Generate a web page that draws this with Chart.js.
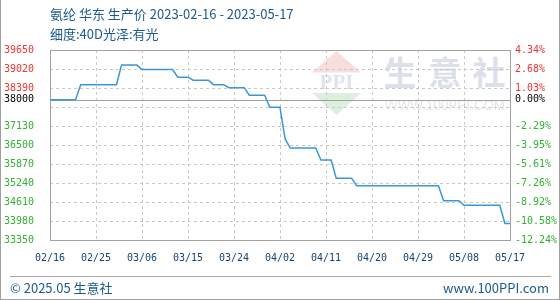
<!DOCTYPE html>
<html>
<head>
<meta charset="utf-8">
<script src="https://cdn.jsdelivr.net/npm/chart.js@4"></script>
<style>
html,body{margin:0;padding:0;background:#fff;}
#wrap{position:relative;width:560px;height:300px;overflow:hidden;}
#c{position:absolute;left:0;top:0;}
.frame{position:absolute;left:0;top:0;width:560px;height:300px;box-sizing:border-box;border-left:1px solid #a0a0a0;border-right:1px solid #a0a0a0;border-bottom:1px solid #a0a0a0;pointer-events:none;}
.title{position:absolute;left:50px;font:13px "Noto Sans CJK SC",sans-serif;color:#1c5a8c;line-height:20px;white-space:nowrap;}
.fline{position:absolute;left:10px;top:276px;width:541px;height:1px;background:#a8a8a8;}
.foot{position:absolute;top:279px;font:13px "Noto Sans CJK SC",sans-serif;color:#1c5a8c;line-height:18px;white-space:nowrap;}
</style>
</head>
<body>
<div id="wrap">
  <canvas id="c" width="560" height="300"></canvas>
  <div class="title" style="top:4px">氨纶 华东 生产价 2023-02-16 - 2023-05-17</div>
  <div class="title" style="top:24px">细度:40D光泽:有光</div>
  <div class="fline"></div>
  <div class="foot" style="left:10px">© 2025.05 生意社</div>
  <div class="foot" style="right:11px">www.100PPI.com</div>
  <div class="frame"></div>
</div>
<script>
// ---- data ----
const startDate = '2023-02-16';
const dayCount = 91;
const prices = [
  38000,38000,38000,38000,38000,38000,
  38500,38500,38500,38500,38500,38500,38500,38500,
  39150,39150,39150,39150,
  39000,39000,39000,39000,39000,39000,39000,
  38750,38750,38750,
  38650,38650,38650,38650,
  38500,38500,38500,
  38400,38400,38400,38400,
  38150,38150,38150,38150,
  37750,37750,37750,
  36700,
  36400,36400,36400,36400,36400,36400,
  36000,36000,36000,
  35400,35400,35400,35400,
  35150,35150,35150,35150,35150,35150,35150,35150,35150,35150,35150,35150,35150,35150,35150,35150,35150,
  34650,34650,34650,34650,
  34500,34500,34500,34500,34500,34500,34500,34500,
  33900,33900
];
const yTicks = [33350,33980,34610,35240,35870,36500,37130,37760,38000,38390,39020,39650];
const hiddenTickLabels = [37760];
const baseValue = 38000;
const xTickStep = 9;

// date labels (MM/DD) for each day
const dayLabels = [];
(function(){
  const d0 = new Date(startDate + 'T00:00:00Z');
  for (let i = 0; i < dayCount; i++) {
    const d = new Date(d0.getTime() + i * 86400000);
    const mm = String(d.getUTCMonth() + 1).padStart(2, '0');
    const dd = String(d.getUTCDate()).padStart(2, '0');
    dayLabels.push(mm + '/' + dd);
  }
})();

const points = prices.map((v, i) => ({x: i, y: v}));

const RED = '#ee3333', GREEN = '#33b033', BLACK = '#000000';
const tickColor = (v) => v > baseValue ? RED : (v < baseValue ? GREEN : BLACK);
const monoFont = {family: '"DejaVu Sans Mono", monospace', size: 10};

const watermark = {
  id: 'watermark',
  beforeDraw(chart) {
    const ctx = chart.ctx, a = chart.chartArea;
    ctx.save();
    // red triangle
    ctx.fillStyle = '#f8dede';
    ctx.beginPath(); ctx.moveTo(312, 72.5); ctx.lineTo(361, 72.5); ctx.lineTo(336.5, 51); ctx.closePath(); ctx.fill();
    // green triangle
    ctx.fillStyle = '#ddf0e0';
    ctx.beginPath(); ctx.moveTo(312, 93); ctx.lineTo(361, 93); ctx.lineTo(336.5, 115); ctx.closePath(); ctx.fill();
    // PPI
    ctx.fillStyle = '#dfe4ee';
    ctx.font = 'bold 21px "Liberation Serif", serif';
    ctx.textAlign = 'center'; ctx.textBaseline = 'middle';
    ctx.fillText('PPI', 336.5, 84, 46);
    // 生意社
    ctx.fillStyle = '#dbe0ea';
    ctx.font = 'bold 33px "Noto Sans CJK SC", sans-serif';
    ctx.fillText('生', 400, 72);
    ctx.fillText('意', 445, 72);
    ctx.fillText('社', 489, 72);
    // url
    ctx.fillStyle = '#e6e6e6';
    ctx.font = '15px "Liberation Sans", sans-serif';
    ctx.fillText('WWW.100PPI.COM', 445, 106, 120);

    // dashed grid lines at the tick positions
    ctx.strokeStyle = '#c8c8c8';
    ctx.lineWidth = 1;
    ctx.setLineDash([3, 3]);
    const ys = chart.scales.y, xs = chart.scales.x;
    ys.ticks.forEach(t => {
      if (t.value === baseValue) return;
      const y = Math.round(ys.getPixelForValue(t.value)) + 0.5;
      ctx.beginPath(); ctx.moveTo(a.left, y); ctx.lineTo(a.right, y); ctx.stroke();
    });
    xs.ticks.forEach(t => {
      const x = Math.round(xs.getPixelForValue(t.value)) + 0.5;
      ctx.beginPath(); ctx.moveTo(x, a.top); ctx.lineTo(x, a.bottom); ctx.stroke();
    });
    ctx.restore();
  },
  beforeDatasetsDraw(chart) {
    const ctx = chart.ctx, a = chart.chartArea;
    const yb = Math.round(chart.scales.y.getPixelForValue(baseValue)) + 0.5;
    ctx.save();
    ctx.strokeStyle = '#a0a0a0';
    ctx.lineWidth = 1;
    ctx.setLineDash([]);
    ctx.beginPath(); ctx.moveTo(a.left, yb); ctx.lineTo(a.right, yb); ctx.stroke();
    ctx.strokeRect(Math.round(a.left) + 0.5, Math.round(a.top) + 0.5, Math.round(a.right - a.left), Math.round(a.bottom - a.top));
    ctx.restore();
  }
};

const setTicks = (scale) => { scale.ticks = yTicks.map(v => ({value: v})); };

new Chart(document.getElementById('c'), {
  type: 'line',
  data: {
    datasets: [{
      data: points,
      borderColor: '#3a98d8',
      borderWidth: 1.5,
      pointRadius: 0,
      tension: 0,
      fill: false,
      yAxisID: 'y'
    }]
  },
  options: {
    responsive: false,
    animation: false,
    layout: {padding: {top: 50, left: 0, right: 0, bottom: 0}},
    plugins: {legend: {display: false}, tooltip: {enabled: false}, title: {display: false}},
    scales: {
      x: {
        type: 'linear', min: 0, max: dayCount - 1,
        afterBuildTicks: (s) => { const t = []; for (let i = 0; i < dayCount; i += xTickStep) t.push({value: i}); s.ticks = t; },
        afterFit: (s) => { s.height = 60; },
        ticks: {
          callback: (v) => dayLabels[v],
          color: '#17456f', font: monoFont, padding: 12, maxRotation: 0, autoSkip: false
        },
        grid: {display: false, drawTicks: false},
        border: {display: false}
      },
      y: {
        type: 'linear', position: 'left', min: yTicks[0], max: yTicks[yTicks.length - 1],
        afterBuildTicks: setTicks,
        afterFit: (s) => { s.width = 50; },
        ticks: {
          callback: (v) => hiddenTickLabels.includes(v) ? '' : String(v),
          color: (c) => tickColor(c.tick.value), font: monoFont, padding: 16, autoSkip: false
        },
        grid: {display: false, drawTicks: false},
        border: {display: false}
      },
      y1: {
        type: 'linear', position: 'right', min: yTicks[0], max: yTicks[yTicks.length - 1],
        afterBuildTicks: setTicks,
        afterFit: (s) => { s.width = 50; },
        ticks: {
          callback: (v) => hiddenTickLabels.includes(v) ? '' : ((v - baseValue) / baseValue * 100).toFixed(2) + '%',
          color: (c) => tickColor(c.tick.value), font: monoFont, padding: 5, autoSkip: false
        },
        grid: {display: false, drawTicks: false},
        border: {display: false}
      }
    }
  },
  plugins: [watermark]
});
</script>
</body>
</html>
